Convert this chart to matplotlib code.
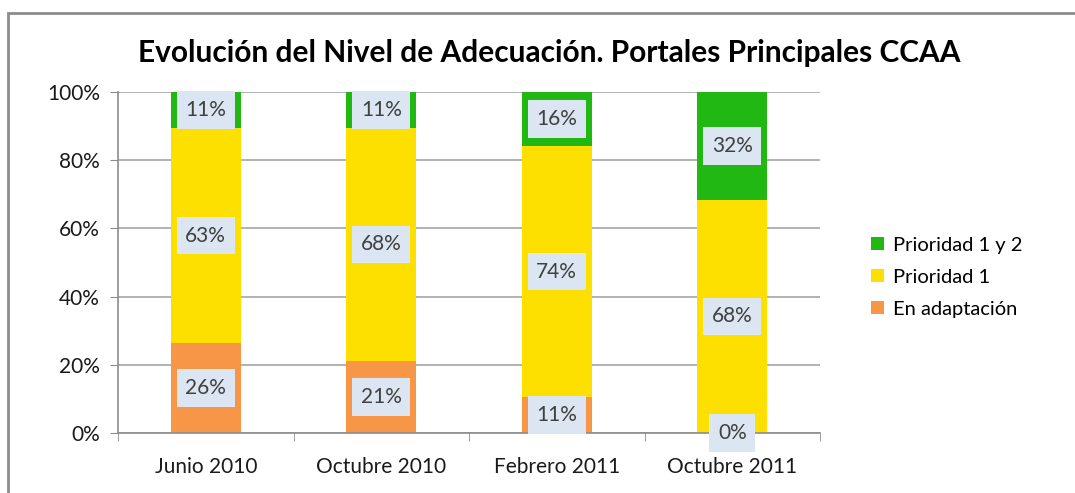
import numpy as np
import matplotlib.pyplot as plt
from matplotlib.patches import Rectangle

plt.rcParams['font.family'] = ['Lato', 'DejaVu Sans']

# data (share of the 19 regional portals, in %)
periodos = ['Junio 2010', 'Octubre 2010', 'Febrero 2011', 'Octubre 2011']
en_adaptacion = [26.3, 21.1, 10.5, 0.0]
prioridad_1 = [63.2, 68.4, 73.7, 68.4]
prioridad_1y2 = [10.5, 10.5, 15.8, 31.6]

series = [('En adaptación', en_adaptacion, '#F79646'),
          ('Prioridad 1', prioridad_1, '#FEE000'),
          ('Prioridad 1 y 2', prioridad_1y2, '#22B814')]

fig = plt.figure(figsize=(10.75, 4.93), dpi=100)
# outer chart frame
fig.patches.append(Rectangle((8/1075, -0.1), 1.2, 1 - 13/493 + 0.1,
                             transform=fig.transFigure, fill=False,
                             edgecolor='#8c8c8c', linewidth=2))
ax = fig.add_axes([0.1098, 0.1217, 0.653, 0.6917])

x = np.arange(len(periodos))
bottom = np.zeros(len(periodos))
handles = []
for name, vals, col in series:
    vals = np.array(vals)
    b = ax.bar(x, vals, 0.4, bottom=bottom, color=col, label=name, zorder=2)
    handles.append(b)
    for xi, v, bt in zip(x, vals, bottom):
        ax.text(xi, bt + v / 2, '%d%%' % int(v + 0.5), ha='center', va='center',
                fontsize=15, color='#404040', zorder=4,
                bbox=dict(boxstyle='square,pad=0.42', fc='#DCE6F2', ec='none'))
    bottom += vals

ax.set_xlim(-0.5, len(periodos) - 0.5)
ax.set_ylim(0, 100)
ax.set_yticks(np.arange(0, 101, 20))
ax.set_yticklabels(['%d%%' % v for v in range(0, 101, 20)])
ax.set_xticks(x)
ax.set_xticklabels(periodos)
ax.set_xticks(np.arange(-0.5, len(periodos), 1), minor=True)
ax.tick_params(axis='x', which='major', length=0, pad=17, labelsize=15,
               labelcolor='#1a1a1a')
ax.tick_params(axis='x', which='minor', length=6, color='#8c8c8c')
ax.tick_params(axis='y', length=6, color='#8c8c8c', labelsize=15,
               labelcolor='#1a1a1a', pad=7)
ax.grid(axis='y', color='#a6a6a6', linewidth=1.2, zorder=0)
ax.set_axisbelow(True)
for s in ['top', 'right']:
    ax.spines[s].set_visible(False)
for s in ['left', 'bottom']:
    ax.spines[s].set_color('#8c8c8c')
    ax.spines[s].set_linewidth(1.2)

fig.text(0.511, 0.892, 'Evolución del Nivel de Adecuación. Portales Principales CCAA',
         ha='center', va='center', fontsize=21.5, fontweight='bold', color='black')

ax.legend(handles[::-1], [h.get_label() for h in handles[::-1]],
          loc='center left', bbox_to_anchor=(1.047, 0.457), frameon=False,
          fontsize=14.5, handlelength=0.65, handleheight=0.65, labelspacing=0.75,
          handletextpad=0.45)

fig.savefig('out.png', dpi=100)
